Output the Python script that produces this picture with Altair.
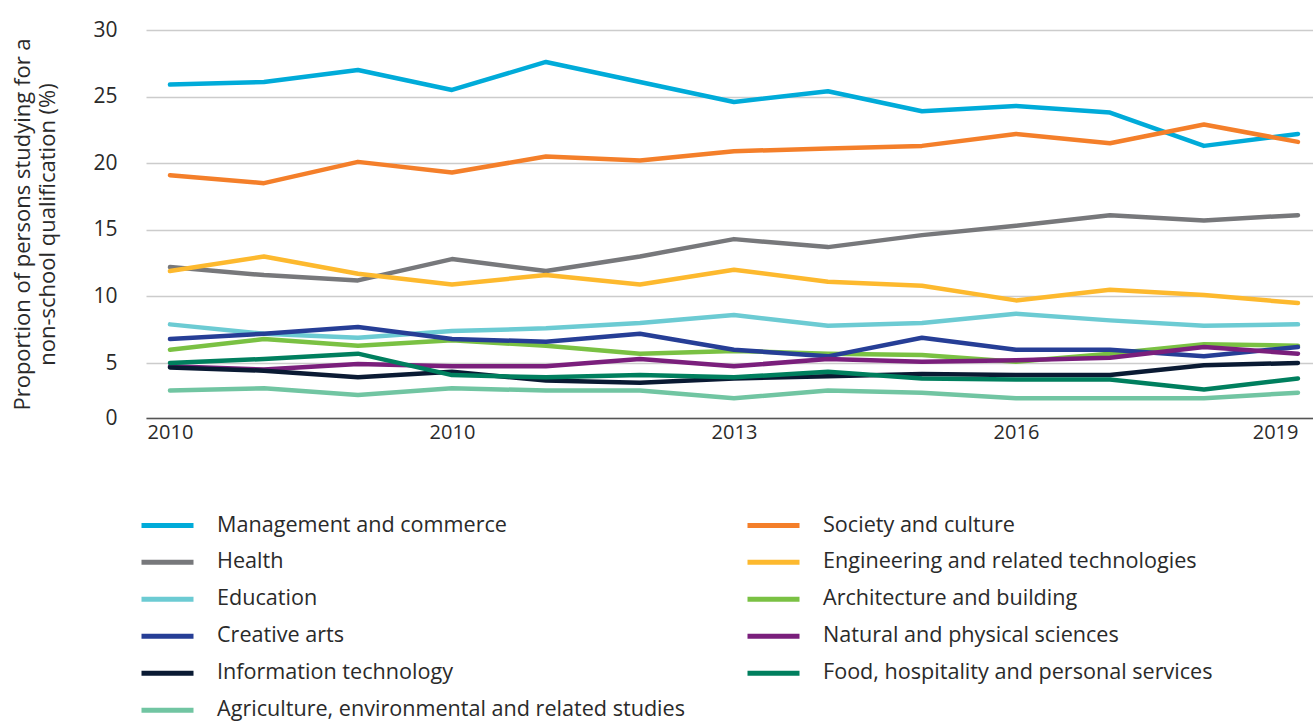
import altair as alt
import pandas as pd

years = list(range(2007, 2020))
tick_values = [2007, 2010, 2013, 2016, 2019]
tick_labels = ["2010", "2010", "2013", "2016", "2019"]
y_ticks = [0, 5, 10, 15, 20, 25, 30]

categories = [
    "Management and commerce",
    "Society and culture",
    "Health",
    "Engineering and related technologies",
    "Education",
    "Architecture and building",
    "Creative arts",
    "Natural and physical sciences",
    "Information technology",
    "Food, hospitality and personal services",
    "Agriculture, environmental and related studies",
]
colors = ["#00ABD9", "#F47F2A", "#77787B", "#FDB92E", "#6CCBD3", "#7AC143",
          "#263E96", "#7A1F7C", "#0A1A33", "#007F5E", "#71C5A2"]

management = [25.9, 26.1, 27.0, 25.5, 27.6, 26.1, 24.6, 25.4, 23.9, 24.3, 23.8, 21.3, 22.2]
society = [19.1, 18.5, 20.1, 19.3, 20.5, 20.2, 20.9, 21.1, 21.3, 22.2, 21.5, 22.9, 21.6]
health = [12.2, 11.6, 11.2, 12.8, 11.9, 13.0, 14.3, 13.7, 14.6, 15.3, 16.1, 15.7, 16.1]
engineering = [11.9, 13.0, 11.7, 10.9, 11.6, 10.9, 12.0, 11.1, 10.8, 9.7, 10.5, 10.1, 9.5]
education = [7.9, 7.2, 6.9, 7.4, 7.6, 8.0, 8.6, 7.8, 8.0, 8.7, 8.2, 7.8, 7.9]
architecture = [6.0, 6.8, 6.3, 6.7, 6.3, 5.7, 5.9, 5.7, 5.6, 5.1, 5.7, 6.4, 6.3]
creative = [6.8, 7.2, 7.7, 6.8, 6.6, 7.2, 6.0, 5.5, 6.9, 6.0, 6.0, 5.5, 6.2]
natural = [4.7, 4.4, 4.9, 4.7, 4.7, 5.3, 4.7, 5.3, 5.1, 5.2, 5.4, 6.2, 5.7]
info_tech = [4.6, 4.3, 3.7, 4.2, 3.4, 3.2, 3.6, 3.8, 4.0, 3.9, 3.9, 4.8, 5.0]
food = [5.0, 5.3, 5.7, 3.9, 3.7, 3.9, 3.7, 4.2, 3.6, 3.5, 3.5, 2.6, 3.6]
agriculture = [2.5, 2.7, 2.1, 2.7, 2.5, 2.5, 1.8, 2.5, 2.3, 1.8, 1.8, 1.8, 2.3]

series = [management, society, health, engineering, education, architecture,
          creative, natural, info_tech, food, agriculture]

rows = []
for name, vals in zip(categories, series):
    for yr, v in zip(years, vals):
        rows.append({"Year": yr, "Field": name, "Value": v})
df = pd.DataFrame(rows)

# legend is filled column by column: left column = even entries, right column = odd entries
legend_order = categories[0::2] + categories[1::2]
legend_colors = colors[0::2] + colors[1::2]

label_expr = " : ".join(
    f"datum.value == {v} ? '{l}'" for v, l in zip(tick_values, tick_labels)
) + " : ''"

FONT = "Open Sans"
TXT = "#2a2a2a"

chart = alt.Chart(df).mark_line(strokeWidth=4.5, strokeCap="round", strokeJoin="round").encode(
    x=alt.X(
        "Year:Q",
        scale=alt.Scale(domain=[2006.745, 2019.16], nice=False, zero=False),
        axis=alt.Axis(
            values=tick_values, labelExpr=label_expr, title=None, grid=False,
            ticks=False, domain=True, domainColor="#555555", domainWidth=1.5,
            labelFont=FONT, labelFontSize=20, labelColor=TXT, labelPadding=4,
            labelFlush=16,
        ),
    ),
    y=alt.Y(
        "Value:Q",
        scale=alt.Scale(domain=[0, 5, 30], range=[388, 333, 0], nice=False, zero=False),
        axis=alt.Axis(
            values=y_ticks, grid=True, gridColor="#cccccc", gridWidth=1.5,
            domain=False, ticks=False, labelPadding=29, labelFont=FONT,
            labelFontSize=21, labelColor=TXT,
            title=["Proportion of persons studying for a", "non-school qualification (%)"],
            titleFont=FONT, titleFontSize=22, titleFontWeight="normal", titleColor=TXT,
            titleAngle=270, titleX=-117, titleY=194, titleAlign="center",
            titleBaseline="alphabetic", titleLineHeight=25,
        ),
    ),
    color=alt.Color(
        "Field:N",
        scale=alt.Scale(domain=legend_order, range=legend_colors),
        legend=alt.Legend(
            orient="none", legendX=-7, legendY=477, columns=2, title=None,
            symbolType="stroke", symbolSize=2704, symbolStrokeWidth=5,
            labelFont=FONT, labelFontSize=21.6, labelColor=TXT, labelLimit=700,
            labelOffset=21, columnPadding=60, rowPadding=0, padding=0,
            clipHeight=36.6,
        ),
    ),
).properties(
    width=1167,
    height=388,
    autosize="none",
    padding={"left": 146, "top": 30, "right": 0, "bottom": 304},
).configure_view(stroke=None)

chart.save("out.html", embed_options={"renderer": "svg", "actions": False})
